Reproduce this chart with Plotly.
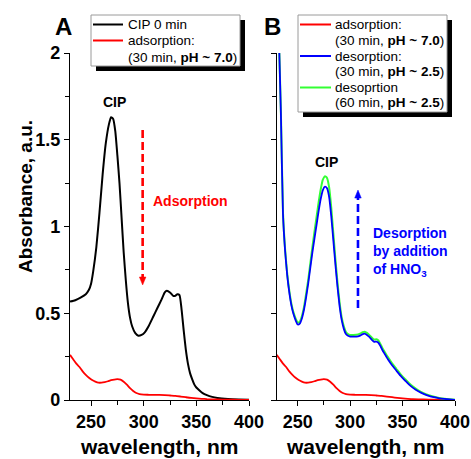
import plotly.graph_objects as go

# ---------------- data ----------------
wl_cip = [230, 235, 240, 245, 248, 250, 252, 255, 258, 261, 264, 267, 269, 271, 273, 275, 277, 279,
          281, 283, 285, 287, 289, 292, 295, 298, 301, 305, 309, 313, 317, 320, 322, 325, 328, 330,
          332, 334, 336, 338, 340, 342, 344, 346, 348, 350, 353, 356, 360, 365, 370, 380, 390, 400]
abs_cip = [0.567, 0.575, 0.59, 0.61, 0.635, 0.67, 0.74, 0.88, 1.08, 1.30, 1.48, 1.59, 1.63, 1.62, 1.55,
           1.41, 1.25, 1.05, 0.85, 0.69, 0.56, 0.475, 0.425, 0.385, 0.37, 0.375, 0.39, 0.43, 0.48, 0.53,
           0.58, 0.62, 0.63, 0.62, 0.60, 0.60, 0.61, 0.605, 0.52, 0.40, 0.29, 0.21, 0.155, 0.12, 0.09,
           0.072, 0.055, 0.04, 0.028, 0.018, 0.012, 0.006, 0.003, 0.001]

wl_ads = [230, 233, 236, 239, 242, 245, 248, 251, 254, 257, 260, 263, 266, 269, 272, 275, 278, 281,
          284, 287, 290, 293, 296, 300, 305, 310, 315, 320, 325, 330, 335, 340, 345, 350, 355, 360,
          370, 380, 390, 400]
abs_ads = [0.26, 0.235, 0.21, 0.19, 0.165, 0.145, 0.128, 0.115, 0.106, 0.10, 0.10, 0.103, 0.108, 0.114,
           0.118, 0.12, 0.117, 0.105, 0.088, 0.068, 0.052, 0.04, 0.034, 0.031, 0.03, 0.029, 0.029,
           0.028, 0.026, 0.024, 0.02, 0.016, 0.012, 0.009, 0.007, 0.005, 0.003, 0.002, 0.001, 0.0]

wl_des = [230, 232.5, 234, 236, 238, 240, 242, 244, 246, 248, 250, 252, 254, 256, 258, 260, 262, 264,
          266, 268, 270, 272, 274, 276, 278, 280, 282, 284, 286, 288, 290, 292, 294, 296, 298, 300,
          303, 306, 309, 312, 314, 316, 318, 321, 323, 325, 327, 329, 331, 333, 336, 340, 344, 348,
          352, 356, 360, 365, 370, 375, 380, 385, 390, 395, 400]
abs_des30 = [2.75, 2.0, 1.65, 1.07, 0.86, 0.72, 0.62, 0.545, 0.495, 0.46, 0.435, 0.44, 0.47, 0.52, 0.59,
             0.67, 0.76, 0.85, 0.93, 1.01, 1.09, 1.16, 1.21, 1.23, 1.22, 1.17, 1.06, 0.92, 0.78, 0.65,
             0.54, 0.46, 0.41, 0.38, 0.37, 0.365, 0.365, 0.365, 0.37, 0.38, 0.383, 0.375, 0.365, 0.345,
             0.335, 0.337, 0.33, 0.31, 0.285, 0.265, 0.235, 0.2, 0.17, 0.14, 0.115, 0.09, 0.07, 0.05,
             0.035, 0.024, 0.016, 0.01, 0.006, 0.003, 0.001]
abs_des60 = [2.75, 2.0, 1.66, 1.08, 0.87, 0.73, 0.63, 0.555, 0.505, 0.47, 0.447, 0.452, 0.483, 0.535,
             0.61, 0.69, 0.785, 0.88, 0.97, 1.055, 1.14, 1.215, 1.27, 1.29, 1.28, 1.225, 1.11, 0.96,
             0.81, 0.675, 0.56, 0.475, 0.425, 0.392, 0.38, 0.375, 0.375, 0.376, 0.381, 0.391, 0.394,
             0.387, 0.376, 0.357, 0.348, 0.35, 0.343, 0.322, 0.297, 0.277, 0.247, 0.211, 0.18, 0.149,
             0.123, 0.098, 0.077, 0.056, 0.04, 0.028, 0.019, 0.012, 0.007, 0.004, 0.002]

x_ticks = [250, 300, 350, 400]
y_ticks = [0, 0.5, 1, 1.5, 2]
y_tick_text = ["0", "0.5", "1", "1.5", "2"]

# ---------------- layout helpers ----------------
W, H = 471, 459
FONT = "Liberation Sans, Arial, sans-serif"
RED, BLUE, GREEN = "#ff0000", "#0000ff", "#33ff33"


def px(x):
    return x / W


def py(y):
    return (H - y) / H


fig = go.Figure()
line_kw = dict(shape="spline", smoothing=0.5)
fig.add_trace(go.Scatter(x=wl_cip, y=abs_cip, mode="lines", line=dict(color="black", width=2, **line_kw),
                         xaxis="x", yaxis="y"))
fig.add_trace(go.Scatter(x=wl_ads, y=abs_ads, mode="lines", line=dict(color=RED, width=1.8, **line_kw),
                         xaxis="x", yaxis="y"))
fig.add_trace(go.Scatter(x=wl_ads, y=abs_ads, mode="lines", line=dict(color=RED, width=1.8, **line_kw),
                         xaxis="x2", yaxis="y2"))
fig.add_trace(go.Scatter(x=wl_des, y=abs_des60, mode="lines", line=dict(color=GREEN, width=2, **line_kw),
                         xaxis="x2", yaxis="y2"))
fig.add_trace(go.Scatter(x=wl_des, y=abs_des30, mode="lines", line=dict(color=BLUE, width=1.8, **line_kw),
                         xaxis="x2", yaxis="y2"))

tickfont = dict(family=FONT, size=18, color="black", weight="bold")
xax = dict(range=[230, 400], tickvals=x_ticks, ticks="outside", ticklen=5, tickwidth=1.3,
           tickcolor="black", showline=True, linecolor="black", linewidth=1.3, showgrid=False,
           zeroline=False, tickfont=tickfont, automargin=False,
           minor=dict(tickvals=[275, 325, 375], ticks="outside", ticklen=4, tickwidth=1.2,
                      tickcolor="black"))
yax = dict(range=[0, 2], tickvals=y_ticks, ticktext=y_tick_text, ticks="outside", ticklen=5,
           tickwidth=1.3, tickcolor="black", showline=True, linecolor="black", linewidth=1.3,
           showgrid=False, zeroline=False, tickfont=tickfont, automargin=False,
           minor=dict(tickvals=[0.25, 0.75, 1.25, 1.75], ticks="outside", ticklen=4, tickwidth=1.2,
                      tickcolor="black"))

yA0, yA1 = py(400), py(53)
fig.update_layout(
    template="none",
    width=W, height=H, autosize=False,
    margin=dict(l=0, r=0, t=0, b=0, pad=0),
    paper_bgcolor="white", plot_bgcolor="white",
    showlegend=False,
    xaxis=dict(domain=[px(70), px(249)], anchor="y", **xax),
    yaxis=dict(domain=[yA0, yA1], anchor="x", **yax),
    xaxis2=dict(domain=[px(276.7), px(455)], anchor="y2", **xax),
    yaxis2=dict(domain=[yA0, yA1], anchor="x2", showticklabels=False,
                **{k: v for k, v in yax.items() if k != "tickfont"}),
)

shapes = []
annots = []

# axis titles
for cx in [(70 + 249) / 2, (276.7 + 455) / 2]:
    annots.append(dict(xref="paper", yref="paper", x=px(cx), y=0, xanchor="center",
                       yanchor="bottom", showarrow=False, borderpad=0, text="<b>wavelength, nm</b>",
                       font=dict(family=FONT, size=21, color="black")))
annots.append(dict(xref="paper", yref="paper", x=px(25), y=py(197), xanchor="center",
                   yanchor="middle", showarrow=False, textangle=-90, text="<b>Absorbance, a.u.</b>",
                   font=dict(family=FONT, size=19, color="black")))

# panel labels
annots.append(dict(xref="paper", yref="paper", x=px(63.5), y=py(26.5), showarrow=False,
                   xanchor="center", yanchor="middle", text="<b>A</b>",
                   font=dict(family=FONT, size=24, color="black")))
annots.append(dict(xref="paper", yref="paper", x=px(272), y=py(26.5), showarrow=False,
                   xanchor="center", yanchor="middle", text="<b>B</b>",
                   font=dict(family=FONT, size=24, color="black")))

# CIP labels
annots.append(dict(xref="x", yref="y", x=272.7, y=1.718, showarrow=False, text="<b>CIP</b>",
                   font=dict(family=FONT, size=14, color="black")))
annots.append(dict(xref="x2", yref="y2", x=277.3, y=1.372, showarrow=False, text="<b>CIP</b>",
                   font=dict(family=FONT, size=14, color="black")))

# Adsorption arrow (red, dashed, down)
shapes.append(dict(type="line", xref="x", yref="y", x0=299, x1=299, y0=1.556, y1=0.705,
                   line=dict(color=RED, width=2.6, dash="8px,4px")))
shapes.append(dict(type="path", xref="x", yref="y", fillcolor=RED, line=dict(color=RED, width=0.5),
                   path="M 295.9,0.709 L 302.1,0.709 L 299,0.663 Z"))
annots.append(dict(xref="x", yref="y", x=344.4, y=1.147, showarrow=False, text="<b>Adsorption</b>",
                   font=dict(family=FONT, size=14, color=RED)))

# Desorption arrow (blue, dashed, up)
shapes.append(dict(type="line", xref="x2", yref="y2", x0=307.5, x1=307.5, y0=0.53, y1=1.17,
                   line=dict(color=BLUE, width=2.6, dash="8px,4px")))
shapes.append(dict(type="path", xref="x2", yref="y2", fillcolor=BLUE, line=dict(color=BLUE, width=0.5),
                   path="M 304.4,1.164 L 310.6,1.164 L 307.5,1.21 Z"))
annots.append(dict(xref="x2", yref="y2", x=319.5, y=0.853, showarrow=False, xanchor="left",
                   align="left", yanchor="middle",
                   text="<b>Desorption<br>by addition<br>of HNO<sub>3</sub></b>",
                   font=dict(family=FONT, size=14, color=BLUE)))


# legends (drawn manually: shadow, box, sample lines, text)
def legend_box(x0, y0, x1, y1):
    shapes.append(dict(type="rect", xref="paper", yref="paper", x0=px(x0 + 5), x1=px(x1 + 5),
                       y0=py(y1 + 5), y1=py(y0 + 5), fillcolor="black", line=dict(width=0),
                       layer="above"))
    shapes.append(dict(type="rect", xref="paper", yref="paper", x0=px(x0), x1=px(x1),
                       y0=py(y1), y1=py(y0), fillcolor="white", line=dict(color="#9a9a9a", width=1),
                       layer="above"))


def legend_line(x0, x1, y, color):
    shapes.append(dict(type="line", xref="paper", yref="paper", x0=px(x0), x1=px(x1), y0=py(y),
                       y1=py(y), line=dict(color=color, width=2), layer="above"))


def legend_text(x, y, text):
    annots.append(dict(xref="paper", yref="paper", x=px(x), y=py(y), xanchor="left",
                       yanchor="middle", showarrow=False, text=text, borderpad=0,
                       font=dict(family=FONT, size=13.5, color="black")))


legend_box(91, 15, 240, 66)
legend_line(93, 123, 24.5, "black")
legend_line(93, 123, 40.5, RED)
legend_text(127, 25, "CIP 0 min")
legend_text(127, 41, "adsorption:")
legend_text(127, 57, "(30 min, <b>pH ~ 7.0</b>)")

legend_box(298, 15, 447, 112)
legend_line(300, 331, 24.5, RED)
legend_line(300, 331, 56, BLUE)
legend_line(300, 331, 87.5, GREEN)
legend_text(334, 25, "adsorption:")
legend_text(334, 40.7, "(30 min, <b>pH ~ 7.0</b>)")
legend_text(334, 56.3, "desorption:")
legend_text(334, 71.8, "(30 min, <b>pH ~ 2.5</b>)")
legend_text(334, 87.4, "desoprtion")
legend_text(334, 102.9, "(60 min, <b>pH ~ 2.5</b>)")

fig.update_layout(shapes=shapes, annotations=annots)
fig.write_html("out.html")
